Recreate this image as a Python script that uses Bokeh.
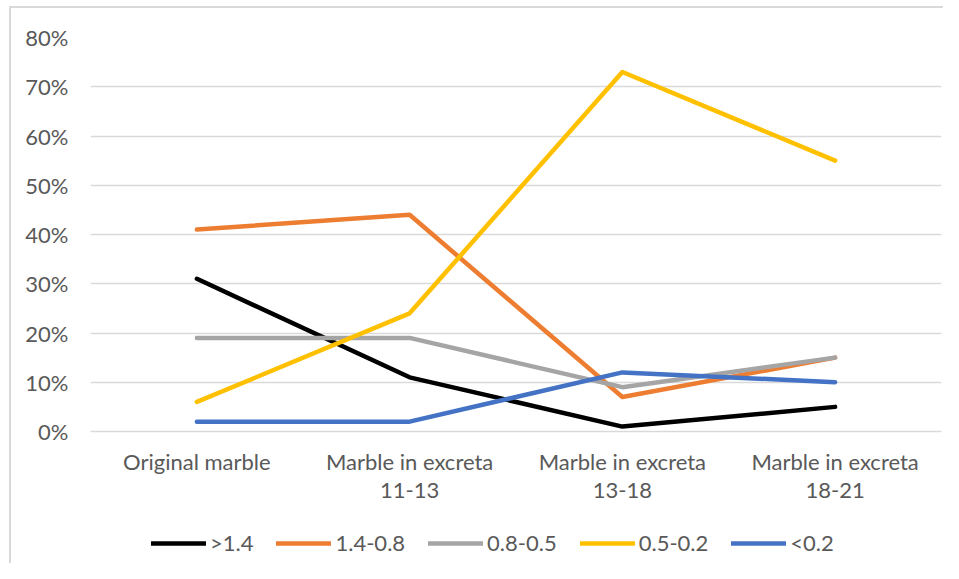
from bokeh.plotting import figure
from bokeh.layouts import column
from bokeh.models import FactorRange, Range1d, NumeralTickFormatter, FixedTicker, Legend, LegendItem
from bokeh.embed import file_html
from bokeh.resources import INLINE

categories = ["Original marble", "Marble in excreta\n11-13", "Marble in excreta\n13-18", "Marble in excreta\n18-21"]
series_names = [">1.4", "1.4-0.8", "0.8-0.5", "0.5-0.2", "<0.2"]
s_gt14 = [0.31, 0.11, 0.01, 0.05]
s_14_08 = [0.41, 0.44, 0.07, 0.15]
s_08_05 = [0.19, 0.19, 0.09, 0.15]
s_05_02 = [0.06, 0.24, 0.73, 0.55]
s_lt02 = [0.02, 0.02, 0.12, 0.10]
y_ticks = [0, 0.1, 0.2, 0.3, 0.4, 0.5, 0.6, 0.7, 0.8]

colors = ["#000000", "#ED7D31", "#A5A5A5", "#FFC000", "#4472C4"]
FONT = "Lato"
TXT = "#595959"
FS = "22px"
GRID = "#d9d9d9"

p = figure(x_range=FactorRange(factors=categories, range_padding=0),
           y_range=Range1d(0, 0.8),
           width=943, height=511, output_backend="svg", toolbar_location=None,
           min_border_left=90, min_border_right=2, min_border_top=37, min_border_bottom=80)
p.outline_line_color = None
p.background_fill_color = "white"
p.border_fill_alpha = 0

series = [s_gt14, s_14_08, s_08_05, s_05_02, s_lt02]
for vals, c in zip(series, colors):
    p.line(categories, vals, line_color=c, line_width=4.5, line_cap="round", line_join="round")

p.yaxis.ticker = FixedTicker(ticks=y_ticks)
p.yaxis.formatter = NumeralTickFormatter(format="0%")
p.yaxis.axis_line_color = None
p.yaxis.major_tick_line_color = None
p.yaxis.minor_tick_line_color = None
p.yaxis.major_label_standoff = 16
p.yaxis.major_label_text_font = FONT
p.yaxis.major_label_text_font_size = FS
p.yaxis.major_label_text_color = TXT

p.xaxis.axis_line_color = GRID
p.xaxis.axis_line_width = 1.5
p.xaxis.major_tick_line_color = None
p.xaxis.minor_tick_line_color = None
p.xaxis.major_label_standoff = 10
p.xaxis.major_label_text_font = FONT
p.xaxis.major_label_text_font_size = FS
p.xaxis.major_label_text_color = TXT
p.xaxis.major_label_text_line_height = 1.06

p.xgrid.grid_line_color = None
p.ygrid.grid_line_color = GRID
p.ygrid.grid_line_width = 1.5
p.ygrid.ticker = FixedTicker(ticks=y_ticks)

# legend strip below the chart (its lines lie outside this strip's visible range)
p2 = figure(width=943, height=52, output_backend="svg", toolbar_location=None,
            x_range=FactorRange(factors=categories, range_padding=0), y_range=Range1d(5, 6),
            min_border_left=90, min_border_right=2, min_border_top=0, min_border_bottom=0)
p2.axis.visible = False
p2.grid.visible = False
p2.outline_line_color = None
p2.background_fill_alpha = 0
p2.border_fill_alpha = 0

items = []
for name, vals, c in zip(series_names, series, colors):
    r = p2.line(categories, vals, line_color=c, line_width=4.5, line_cap="round")
    items.append(LegendItem(label=name, renderers=[r]))

legend = Legend(items=items, orientation="horizontal", location=(61, 7),
                glyph_width=55, glyph_height=22, label_standoff=4, spacing=23,
                label_text_font=FONT, label_text_font_size=FS, label_text_color=TXT,
                border_line_color=None, background_fill_alpha=0, margin=0, padding=0)
p2.add_layout(legend, "center")

layout = column(p, p2, spacing=0)
layout.styles = {
    "background-color": "white",
    "background-image": "linear-gradient(#d9d9d9, #d9d9d9), linear-gradient(#d9d9d9, #d9d9d9)",
    "background-size": "2px calc(100% - 6px), calc(100% - 9px) 2px",
    "background-position": "9px 6px, 9px 6px",
    "background-repeat": "no-repeat",
}

open("out.html", "w").write(file_html(layout, INLINE))
